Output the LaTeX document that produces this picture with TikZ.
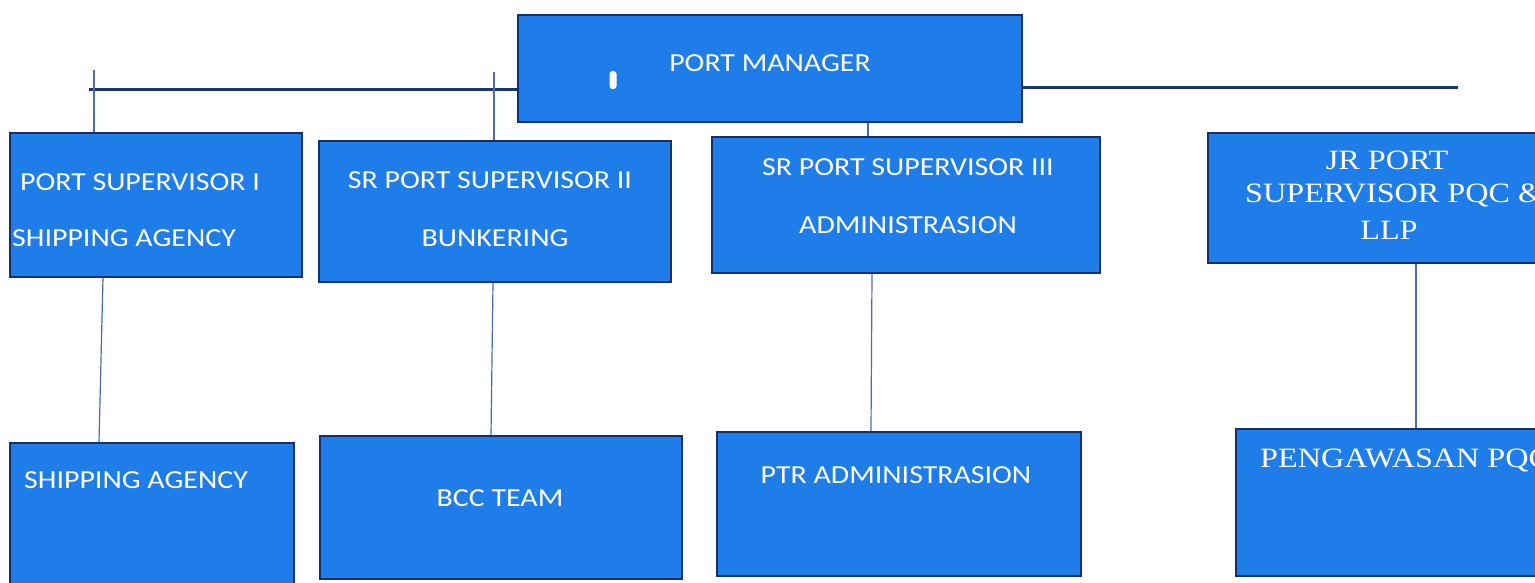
\documentclass[tikz,border=0pt]{standalone}
\usepackage{fontspec}
\setmainfont{Carlito}[FakeStretch=1.15]
\newfontfamily\serifface{Liberation Serif}[FakeStretch=1.15]
\definecolor{boxblue}{HTML}{1E7DE8}
\definecolor{boxedge}{HTML}{13306C}
\definecolor{barline}{HTML}{1B356E}
\definecolor{stemline}{HTML}{4A6CAE}
\begin{document}
\begin{tikzpicture}[x=1pt,y=-1pt,
  unit/.style={draw=boxedge, line width=2pt, fill=boxblue, inner sep=0pt, anchor=north west},
  lbl/.style={text=white, inner sep=0pt, font=\fontsize{26}{30}\selectfont},
  slbl/.style={text=white, inner sep=0pt, font=\serifface\fontsize{28}{32}\selectfont},
  bar/.style={draw=barline, line width=3pt},
  stem/.style={draw=stemline, line width=1.2pt}]
\useasboundingbox (0,0) rectangle (1535,583);
\clip (0,0) rectangle (1535,583);

% top level
\node[unit, minimum width=504pt, minimum height=107pt] (pm) at (517,14) {};
% supervisors
\node[unit, minimum width=292pt, minimum height=144pt] (s1) at (9,132) {};
\node[unit, minimum width=352pt, minimum height=141pt] (s2) at (318,140) {};
\node[unit, minimum width=388pt, minimum height=136pt] (s3) at (711,136) {};
\node[unit, minimum width=360pt, minimum height=130pt] (s4) at (1207,132) {};
% teams
\node[unit, minimum width=284pt, minimum height=170pt] (t1) at (9,442) {};
\node[unit, minimum width=362pt, minimum height=143pt] (t2) at (319,435) {};
\node[unit, minimum width=364pt, minimum height=144pt] (t3) at (716,431) {};
\node[unit, minimum width=340pt, minimum height=147pt] (t4) at (1235,428) {};

% horizontal bar through the manager box
\coordinate (barL) at (89,90);
\coordinate (barR) at (1458,88);
\draw[bar] (barL) -- (barL -| pm.west);
\draw[bar] (barR -| pm.east) -- (barR);

% stems down to the supervisors
\coordinate (v1) at (94,70);
\coordinate (v2) at (494,72);
\draw[stem] (v1) -- (v1 |- s1.north);
\draw[stem] (v2) -- (v2 |- s2.north);
\draw[stem] ([xshift=98pt]pm.south) -- ([xshift=98pt]pm.south |- s3.north);

% stems down to the teams
\draw[stem] ([xshift=-53pt]s1.south) -- ([xshift=-53pt]t1.north);
\draw[stem] ([xshift=-2pt]s2.south) -- ([xshift=-10pt]t2.north);
\draw[stem] ([xshift=-34pt]s3.south) -- ([xshift=-28pt]t3.north);
\draw[stem] ([xshift=28pt]s4.south) -- ([xshift=10pt]t4.north);

% labels
\node[lbl] (pmA) at (770,63) {PORT MANAGER};
\node[fill=white, rounded corners=3pt, minimum width=7pt, minimum height=18pt, inner sep=0pt] (mark) at (613,80) {};

\node[lbl] (s1A) at (140,182) {PORT SUPERVISOR I};
\node[lbl] (s1B) at (124,238) {SHIPPING AGENCY};
\node[lbl] (s2A) at (490,180) {SR PORT SUPERVISOR II};
\node[lbl] (s2B) at (495,238) {BUNKERING};
\node[lbl] (s3A) at (908,167) {SR PORT SUPERVISOR III};
\node[lbl] (s3B) at (908,225) {ADMINISTRASION};
\node[slbl] (s4A) at (1387,160) {JR PORT};
\node[slbl, anchor=west] (s4B) at (1245,195) {SUPERVISOR PQC \&};
\node[slbl] (s4C) at (1389,230) {LLP};

\node[lbl] (t1A) at (136,480) {SHIPPING AGENCY};
\node[lbl] (t2A) at (500,498) {BCC TEAM};
\node[lbl] (t3A) at (896,475) {PTR ADMINISTRASION};
\node[slbl, anchor=west] (t4A) at (1260,460) {PENGAWASAN PQC};
\end{tikzpicture}
\end{document}
